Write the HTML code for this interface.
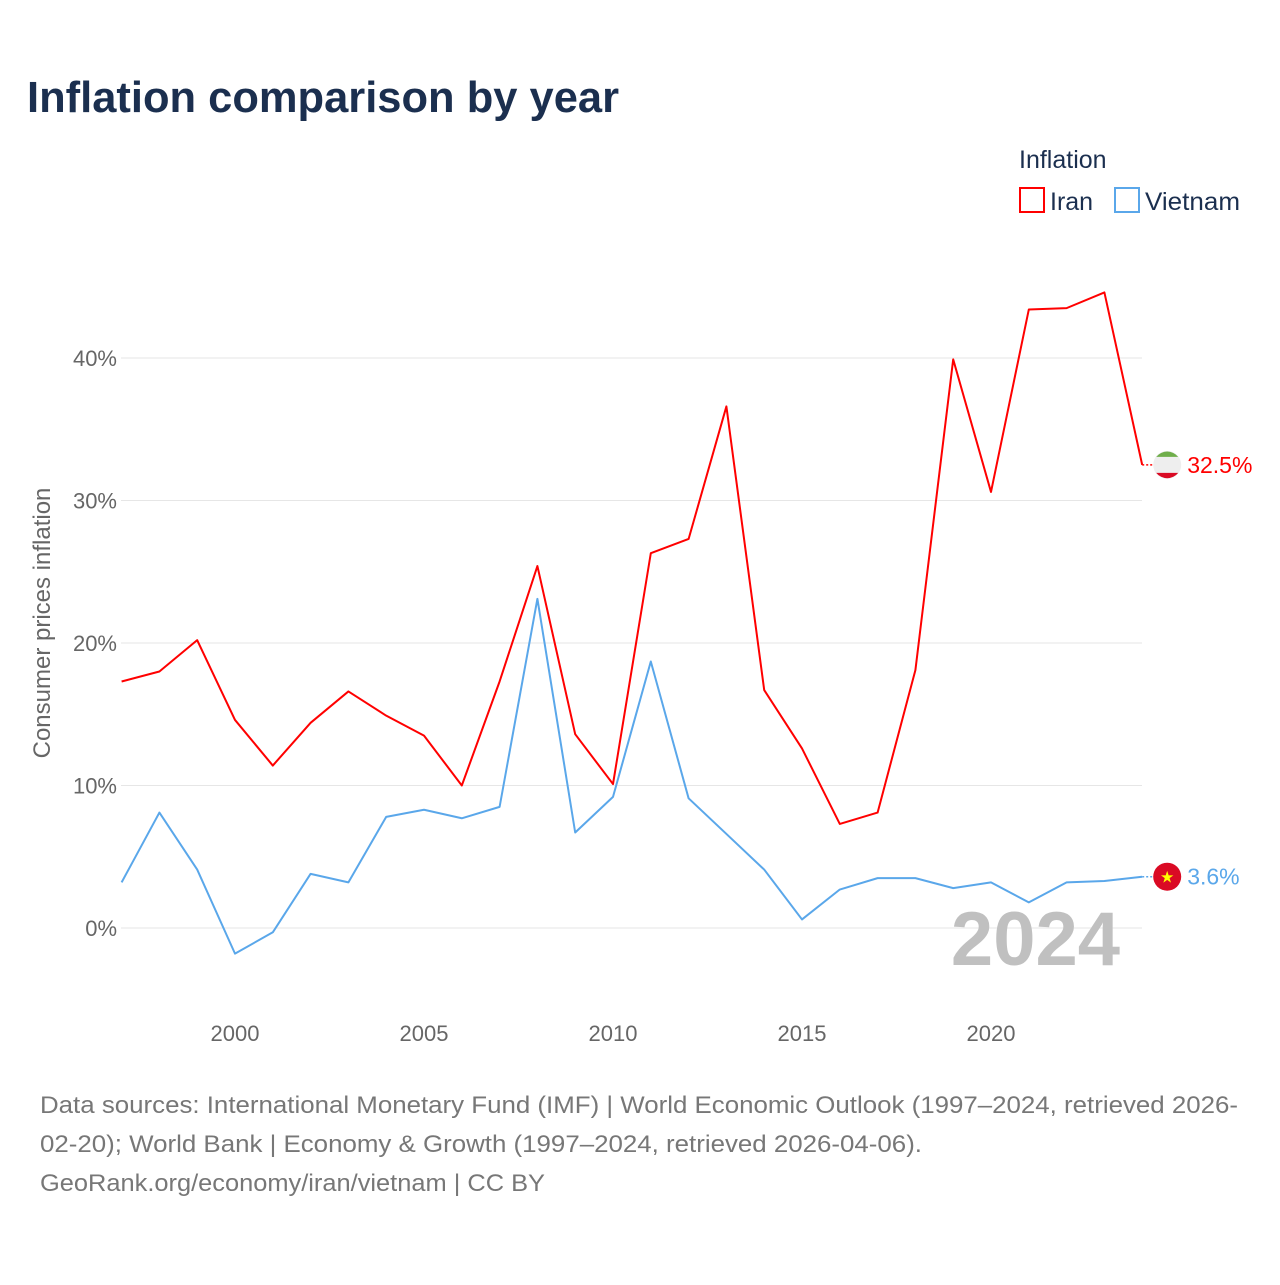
<!DOCTYPE html>
<html><head><meta charset="utf-8">
<style>
body{margin:0;background:#fff;width:1280px;height:1280px;overflow:hidden;font-family:"Liberation Sans",sans-serif;}
</style></head>
<body>
<svg width="1280" height="1280" id="chart" xmlns="http://www.w3.org/2000/svg" font-family="Liberation Sans, sans-serif">
<text x="27" y="112" font-size="44" font-weight="bold" fill="#1b2f4f" textLength="592" lengthAdjust="spacingAndGlyphs">Inflation comparison by year</text>
<text x="1019" y="168" font-size="25" fill="#1b2f4f">Inflation</text>
<g><rect x="1020" y="188" width="24" height="24" fill="none" stroke="#f00" stroke-width="2"/><text x="1050" y="210" font-size="25" fill="#1b2f4f">Iran</text></g>
<g><rect x="1115" y="188" width="24" height="24" fill="none" stroke="#5aa7ea" stroke-width="2"/><text x="1145" y="210" font-size="25" fill="#1b2f4f" textLength="95" lengthAdjust="spacingAndGlyphs">Vietnam</text></g>
<text transform="translate(50,623) rotate(-90)" text-anchor="middle" font-size="24" fill="#666">Consumer prices inflation</text>
<g id="grid"></g><g id="yticks"></g><g id="xticks"></g>
<text x="1120" y="965" text-anchor="end" font-size="76" font-weight="bold" fill="#c0c0c0">2024</text>
<g id="series"></g>
<text x="40" y="1113" font-size="24" fill="#777" textLength="1198" lengthAdjust="spacingAndGlyphs">Data sources: International Monetary Fund (IMF) | World Economic Outlook (1997–2024, retrieved 2026-</text>
<text x="40" y="1152" font-size="24" fill="#777" textLength="882" lengthAdjust="spacingAndGlyphs">02-20); World Bank | Economy &amp; Growth (1997–2024, retrieved 2026-04-06).</text>
<text x="40" y="1191" font-size="24" fill="#777" textLength="505" lengthAdjust="spacingAndGlyphs">GeoRank.org/economy/iran/vietnam | CC BY</text>
</svg>
<script>
const years=[1997,1998,1999,2000,2001,2002,2003,2004,2005,2006,2007,2008,2009,2010,2011,2012,2013,2014,2015,2016,2017,2018,2019,2020,2021,2022,2023,2024];
const iran=[17.3,18.0,20.2,14.6,11.4,14.4,16.6,14.9,13.5,10.0,17.3,25.4,13.6,10.1,26.3,27.3,36.6,16.7,12.6,7.3,8.1,18.1,39.9,30.6,43.4,43.5,44.6,32.5];
const vietnam=[3.2,8.1,4.1,-1.8,-0.3,3.8,3.2,7.8,8.3,7.7,8.5,23.1,6.7,9.2,18.7,9.1,6.6,4.1,0.6,2.7,3.5,3.5,2.8,3.2,1.8,3.2,3.3,3.6];
const yTicks=[0,10,20,30,40];
const xTicks=[2000,2005,2010,2015,2020];
const NS="http://www.w3.org/2000/svg";
const x=v=>121.6+(v-1997)*37.8;
const y=v=>928-v*14.25;
function mk(tag,attrs,parent){const e=document.createElementNS(NS,tag);for(const k in attrs)e.setAttribute(k,attrs[k]);document.getElementById(parent).appendChild(e);return e;}
yTicks.forEach(t=>{
  const l=mk('line',{x1:121,x2:1142,y1:y(t),y2:y(t),stroke:'#e6e6e6','stroke-width':1},'grid');
  
  
  const tx=mk('text',{x:117,y:y(t)+8,'text-anchor':'end','font-size':22,fill:'#666'},'yticks');
  tx.textContent=t+'%';
  
  
});
xTicks.forEach(t=>{
  const tx=mk('text',{x:x(t),y:1041,'text-anchor':'middle','font-size':22,fill:'#666'},'xticks');
  tx.textContent=t;
  
  
});
function series(vals,color,name){
  const p=mk('polyline',{points:vals.map((v,i)=>x(years[i])+','+y(v)).join(' '),fill:'none',stroke:color,'stroke-width':2,'stroke-linejoin':'round'},'series');
  
  
  const lv=vals[vals.length-1];
  const ex=x(years[years.length-1]), ey=y(lv);
  const d=mk('line',{x1:ex,x2:ex+12,y1:ey,y2:ey,stroke:color,'stroke-width':1.5,'stroke-dasharray':'2,2'},'series');
  
  
  const c=mk('circle',{cx:ex+25,cy:ey,r:14,fill:name==='iran'?'#eee':'#da0a24'},'series');
  
  
  if(name==='iran'){
    const g=mk('path',{d:`M${ex+14} ${ey-8} A14 14 0 0 1 ${ex+36} ${ey-8} Z`,fill:'#6fae4a'},'series');
    
    
    const r=mk('path',{d:`M${ex+14} ${ey+8} A14 14 0 0 0 ${ex+36} ${ey+8} Z`,fill:'#da0a24'},'series');
    
    
  } else {
    const s=mk('text',{x:ex+25,y:ey+6,'text-anchor':'middle','font-size':16,fill:'#ff0'},'series');
    s.textContent='★';
    
    
  }
  const t=mk('text',{x:ex+45,y:ey+8,'font-size':23,fill:color},'series');
  t.textContent=lv.toFixed(1)+'%';
  
  
}
series(iran,'#ff0000','iran');
series(vietnam,'#5aa7ea','vietnam');
</script>
</body></html>
